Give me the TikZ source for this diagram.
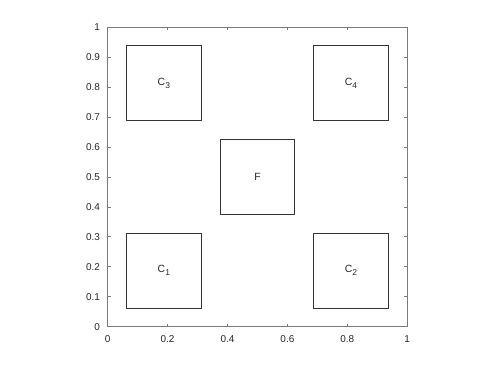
\documentclass[tikz,border=0pt]{standalone}
\usepackage{fontspec}
\setmainfont{Liberation Sans}
\usepackage{xcolor}
\usepackage{tikz}
\definecolor{framegray}{HTML}{7A7A7A}
\definecolor{boxgray}{HTML}{333333}
\newcommand{\lowsub}[1]{\raisebox{-3bp}{\fontsize{8.5}{10}\selectfont #1}}

\begin{document}
\begin{tikzpicture}[x=299.5bp,y=299.5bp,
  cell/.style={draw=boxgray,line width=0.9bp,minimum size=74.9bp,inner sep=0pt,font=\fontsize{10.5}{12}\selectfont,text=black!85},
  ticklab/.style={inner sep=0pt,font=\fontsize{10}{12}\selectfont,text=black!85}]
\useasboundingbox (-107.7bp,-40.3bp) rectangle (390.3bp,326.7bp);
\foreach \x/\lab in {0/0,0.2/0.2,0.4/0.4,0.6/0.6,0.8/0.8,1/1}{
  \draw[framegray,line width=0.8bp] (\x,0)--++(0,3bp) (\x,1)--++(0,-3bp);
  \node[ticklab,anchor=north,yshift=-8.3bp] (xl\lab) at (\x,0) {\lab};}
\foreach \y/\lab in {0/0,0.1/0.1,0.2/0.2,0.3/0.3,0.4/0.4,0.5/0.5,0.6/0.6,0.7/0.7,0.8/0.8,0.9/0.9,1/1}{
  \draw[framegray,line width=0.8bp] (0,\y)--++(3bp,0) (1,\y)--++(-3bp,0);
  \node[ticklab,anchor=east,xshift=-7.5bp] (yl\lab) at (0,\y) {\lab};}
\draw[framegray,line width=1.2bp] (0,0) rectangle (1,1);
\node[cell] (c1) at (0.1875,0.1875) {C\lowsub{1}};
\node[cell] (c2) at (0.8125,0.1875) {C\lowsub{2}};
\node[cell] (c3) at (0.1875,0.8125) {C\lowsub{3}};
\node[cell] (c4) at (0.8125,0.8125) {C\lowsub{4}};
\node[cell] (f) at (0.5,0.5) {F};
\end{tikzpicture}
\end{document}
